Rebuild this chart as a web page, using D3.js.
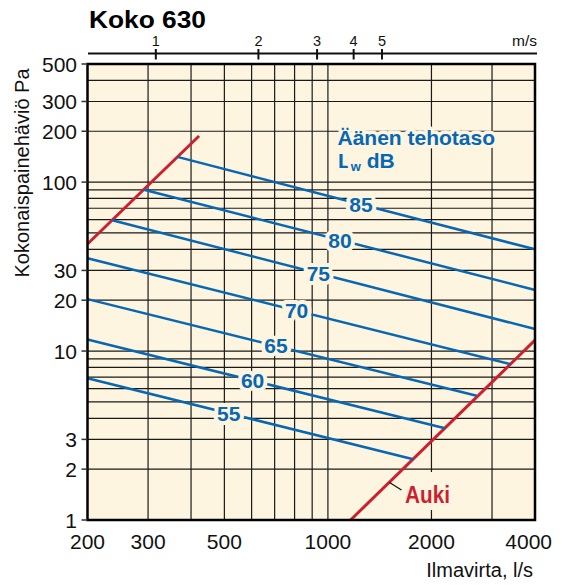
<!DOCTYPE html>
<html>
<head>
<meta charset="utf-8">
<script src="https://cdn.jsdelivr.net/npm/d3@7/dist/d3.min.js"></script>
<style>
  html, body { margin: 0; padding: 0; background: #ffffff; }
  svg { display: block; font-family: "Liberation Sans", Arial, Helvetica, sans-serif; }
</style>
</head>
<body>
<svg id="chart" width="562" height="585"></svg>
<script>
// ---- data ----
const title = "Koko 630";
const xTickValues = [200, 300, 500, 1000, 2000, 4000];
const yTickValues = [1, 2, 3, 10, 20, 30, 100, 200, 300, 500];
const xGridValues = [300, 400, 500, 600, 700, 800, 900, 1000, 2000, 3000];
const yGridValues = [2, 3, 4, 5, 6, 7, 8, 9, 10, 20, 30, 40, 50, 60, 70, 80, 90, 100, 200, 300, 400];
// top velocity axis: m/s values and the flow (l/s) where each tick sits
const velocityTicks = [1, 2, 3, 4, 5];
const velocityFlows = [316, 628, 930, 1188, 1436];
// sound power level lines (Lw dB): start/end points [l/s, Pa]
const levels = [85, 80, 75, 70, 65, 60, 55];
const levelStart = [[365, 141], [292, 90], [236, 59.5], [200, 35.4], [200, 20.3], [200, 11.7], [200, 6.9]];
const levelEnd = [[4000, 40.0], [4000, 23.0], [4000, 13.5], [3384, 8.38], [2707, 5.44], [2189, 3.49], [1770, 2.29]];
const levelLabelFlow = [1248, 1084, 938, 811, 706, 604, 515];
// red limit lines [l/s, Pa]
const limitLine = [[200, 43.0], [422, 187.5]];
const aukiLine = [[1164, 1], [4000, 11.6]];

// ---- styles ----
const BG = "#fdf5df", BLUE = "#0867b3", RED = "#cc1f30";
const svg = d3.select("#chart");
const L = 87.5, R = 535, T = 64, B = 520;
const x = d3.scaleLog().domain([200, 4000]).range([L, R]);
const y = d3.scaleLog().domain([1, 500]).range([B, T]);

// plot background
svg.append("rect").attr("x", L).attr("y", T).attr("width", R - L).attr("height", B - T).attr("fill", BG);

// grid
const grid = svg.append("g").attr("stroke", "#1a1a1a").attr("stroke-width", 1.2);
grid.selectAll(".vg").data(xGridValues).join("line")
  .attr("x1", d => x(d)).attr("x2", d => x(d)).attr("y1", T).attr("y2", B);
grid.selectAll(".hg").data(yGridValues).join("line")
  .attr("x1", L).attr("x2", R).attr("y1", d => y(d)).attr("y2", d => y(d));

// red lines
const line = d3.line().x(d => x(d[0])).y(d => y(d[1]));
svg.append("path").datum(limitLine).attr("d", line).attr("fill", "none").attr("stroke", RED).attr("stroke-width", 3);
svg.append("path").datum(aukiLine).attr("d", line).attr("fill", "none").attr("stroke", RED).attr("stroke-width", 3);

// blue lines
const lvl = levels.map((v, i) => ({ v, s: levelStart[i], e: levelEnd[i], lq: levelLabelFlow[i] }));
svg.append("g").selectAll("path").data(lvl).join("path")
  .attr("d", d => line([d.s, d.e])).attr("fill", "none").attr("stroke", BLUE).attr("stroke-width", 2.5);

// labels on blue lines (log interpolation along the line)
function pAt(d, q) {
  const t = Math.log(q / d.s[0]) / Math.log(d.e[0] / d.s[0]);
  return Math.exp(Math.log(d.s[1]) + t * (Math.log(d.e[1]) - Math.log(d.s[1])));
}
svg.append("g").selectAll("text").data(lvl).join("text")
  .attr("x", d => x(d.lq)).attr("y", d => y(pAt(d, d.lq)))
  .attr("dy", "0.36em").attr("text-anchor", "middle")
  .attr("font-size", 21).attr("font-weight", "bold").attr("fill", BLUE)
  .attr("stroke", BG).attr("stroke-width", 8).attr("paint-order", "stroke").attr("stroke-linejoin", "round")
  .text(d => d.v);

// legend text
const lg = svg.append("g").attr("font-weight", "bold").attr("fill", BLUE)
  .attr("stroke", BG).attr("stroke-width", 7).attr("paint-order", "stroke").attr("stroke-linejoin", "round");
lg.append("text").attr("x", 337.5).attr("y", 145).attr("font-size", 21).text("Äänen tehotaso");
const t2 = lg.append("text").attr("x", 338).attr("y", 168.3).attr("font-size", 21);
t2.append("tspan").text("L");
t2.append("tspan").attr("font-size", 13).attr("dy", 2.5).text("w");
t2.append("tspan").attr("dy", -2.5).text(" dB");

// Auki label
svg.append("rect").attr("x", 403).attr("y", 472).attr("width", 50).attr("height", 38).attr("fill", BG);
svg.append("line").attr("x1", 389.5).attr("y1", 482.5).attr("x2", 401.5).attr("y2", 490)
  .attr("stroke", "#111").attr("stroke-width", 1.2);
svg.append("text").attr("x", 405).attr("y", 503).attr("font-size", 23).attr("font-weight", "bold")
  .attr("fill", RED).attr("textLength", 45).attr("lengthAdjust", "spacingAndGlyphs").text("Auki");

// plot border
svg.append("rect").attr("x", L).attr("y", T).attr("width", R - L).attr("height", B - T)
  .attr("fill", "none").attr("stroke", "#000").attr("stroke-width", 2.5);

// y ticks + labels
svg.append("g").selectAll("line").data(yTickValues).join("line")
  .attr("x1", 81.5).attr("x2", L).attr("y1", d => y(d)).attr("y2", d => y(d))
  .attr("stroke", "#333").attr("stroke-width", 1.5);
svg.append("g").selectAll("text").data(yTickValues).join("text")
  .attr("x", 77).attr("y", d => y(d)).attr("dy", "0.36em").attr("text-anchor", "end")
  .attr("font-size", 21).attr("fill", "#111").text(d => d);

// x labels
svg.append("g").selectAll("text").data(xTickValues).join("text")
  .attr("x", d => d === 4000 ? 552 : x(d)).attr("y", 549)
  .attr("text-anchor", d => d === 4000 ? "end" : "middle")
  .attr("font-size", 21).attr("fill", "#111").text(d => d);

// axis titles
svg.append("text").attr("x", 533).attr("y", 577).attr("text-anchor", "end")
  .attr("font-size", 20).attr("fill", "#111").text("Ilmavirta, l/s");
svg.append("text").attr("transform", "translate(29,173) rotate(-90)").attr("text-anchor", "middle")
  .attr("font-size", 20).attr("fill", "#111").text("Kokonaispainehäviö Pa");

// top velocity axis
svg.append("line").attr("x1", 88).attr("x2", 537).attr("y1", 53.5).attr("y2", 53.5)
  .attr("stroke", "#111").attr("stroke-width", 2);
const vt = velocityTicks.map((v, i) => ({ v, q: velocityFlows[i] }));
svg.append("g").selectAll("line").data(vt).join("line")
  .attr("x1", d => x(d.q)).attr("x2", d => x(d.q)).attr("y1", 49).attr("y2", 59.5)
  .attr("stroke", "#111").attr("stroke-width", 2);
svg.append("g").selectAll("text").data(vt).join("text")
  .attr("x", d => x(d.q)).attr("y", 45.5).attr("text-anchor", "middle")
  .attr("font-size", 14.5).attr("fill", "#111").text(d => d.v);
svg.append("text").attr("x", 537).attr("y", 45.5).attr("text-anchor", "end")
  .attr("font-size", 15.5).attr("fill", "#111").text("m/s");

// title
svg.append("text").attr("x", 89).attr("y", 27.5).attr("font-size", 23).attr("font-weight", "bold")
  .attr("fill", "#000").attr("textLength", 117).attr("lengthAdjust", "spacingAndGlyphs").text(title);
</script>
</body>
</html>
